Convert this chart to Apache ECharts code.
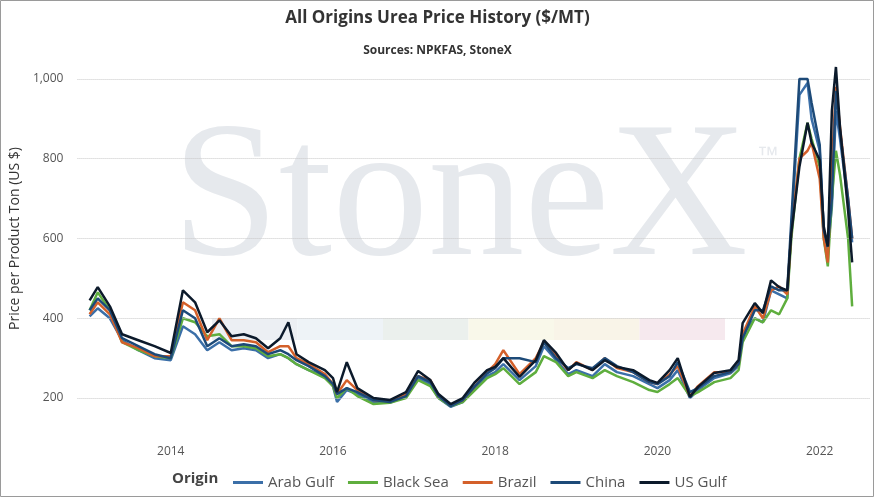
<!DOCTYPE html>
<html>
<head>
<meta charset="utf-8">
<script src="https://cdn.jsdelivr.net/npm/echarts@6/dist/echarts.min.js"></script>
<style>html,body{margin:0;padding:0;background:#fff}#chart{width:875px;height:498px}</style>
</head>
<body>
<div id="chart"></div>
<script>
// time points (decimal years)
var years = [2013.0, 2013.1, 2013.25, 2013.4, 2013.6, 2013.8,
    2014.0, 2014.15, 2014.3, 2014.45, 2014.6, 2014.75, 2014.9,
    2015.05, 2015.2, 2015.35, 2015.45, 2015.55, 2015.7, 2015.9,
    2016.0, 2016.05, 2016.17, 2016.3, 2016.5, 2016.7, 2016.9,
    2017.05, 2017.2, 2017.3, 2017.45, 2017.6, 2017.75, 2017.9,
    2018.0, 2018.1, 2018.3, 2018.5, 2018.6, 2018.75, 2018.9,
    2019.0, 2019.2, 2019.35, 2019.5, 2019.7, 2019.9,
    2020.0, 2020.15, 2020.25, 2020.4, 2020.5, 2020.7, 2020.9,
    2021.0, 2021.05, 2021.2, 2021.3, 2021.4, 2021.5, 2021.6, 2021.65, 2021.75, 2021.85, 2021.9,
    2022.0, 2022.05, 2022.1, 2022.15, 2022.2, 2022.25, 2022.35, 2022.4];

var arabGulf = [405, 425, 400, 345, 320, 300,
    295, 380, 360, 320, 340, 320, 325,
    320, 300, 310, 300, 285, 270, 255,
    230, 190, 220, 210, 190, 188, 205,
    250, 235, 200, 178, 190, 225, 255,
    265, 285, 245, 280, 330, 295, 260,
    270, 255, 285, 265, 255, 235,
    225, 245, 270, 200, 220, 250, 262,
    280, 360, 400, 390, 470, 460, 450, 620, 960, 990, 900,
    820, 620, 570, 680, 920, 850, 690, 590];
var blackSea = [420, 465, 420, 340, 320, 305,
    300, 400, 390, 355, 360, 330, 330,
    325, 305, 310, 300, 285, 270, 250,
    230, 200, 225, 205, 185, 188, 200,
    245, 230, 200, 180, 190, 220, 250,
    260, 275, 235, 265, 305, 290, 255,
    265, 250, 270, 255, 240, 220,
    215, 235, 250, 205, 215, 240, 250,
    270, 340, 400, 390, 420, 410, 450, 600, 800, 890, 850,
    780, 600, 530, 700, 820, 760, 600, 430];
var brazil = [410, 440, 410, 340, 325, 305,
    305, 440, 420, 345, 400, 345, 345,
    340, 315, 330, 330, 300, 285, 260,
    235, 210, 245, 220, 195, 192, 210,
    255, 245, 205, 182, 195, 230, 265,
    285, 320, 260, 300, 340, 305, 270,
    290, 270, 300, 275, 265, 240,
    235, 260, 280, 205, 230, 265, 265,
    285, 360, 430, 400, 470, 480, 460, 620, 800, 820, 840,
    750, 600, 540, 780, 980, 880, 700, 600];
var china = [420, 450, 420, 350, 330, 310,
    300, 420, 400, 330, 350, 330, 335,
    330, 310, 320, 310, 295, 280, 255,
    235, 210, 225, 215, 195, 190, 205,
    255, 240, 205, 180, 195, 230, 262,
    275, 300, 300, 290, 340, 300, 275,
    285, 275, 300, 280, 265, 240,
    235, 255, 290, 215, 225, 255, 265,
    285, 350, 420, 420, 480, 470, 470, 645, 1000, 1000, 940,
    835, 620, 580, 700, 970, 870, 700, 600];
var usGulf = [445, 478, 430, 360, 345, 330,
    313, 470, 440, 365, 395, 355, 360,
    350, 325, 350, 390, 310, 290, 270,
    250, 215, 290, 225, 200, 195, 215,
    268, 245, 210, 185, 200, 240, 270,
    278, 300, 253, 295, 345, 313, 270,
    288, 270, 295, 278, 270, 245,
    238, 270, 300, 203, 228, 263, 270,
    295, 388, 438, 413, 495, 478, 470, 613, 780, 890, 840,
    797, 630, 580, 920, 1030, 880, 670, 540];

var seriesNames = ['Arab Gulf', 'Black Sea', 'Brazil', 'China', 'US Gulf'];
var seriesColors = ['#3b6fa8', '#5fae3e', '#d4602a', '#1d4a78', '#0c1a2b'];
var xTicks = [2014, 2016, 2018, 2020, 2022];
var yTicks = [200, 400, 600, 800, 1000];

var chart = echarts.init(document.getElementById('chart'));

function pairs(vals) {
    return years.map(function (y, i) { return [y, vals[i]]; });
}

var allData = [arabGulf, blackSea, brazil, china, usGulf];
var series = allData.map(function (vals, i) {
    return {
        name: seriesNames[i],
        type: 'line',
        data: pairs(vals),
        showSymbol: false,
        lineStyle: { width: 2.5, color: seriesColors[i] },
        itemStyle: { color: seriesColors[i] },
        z: 3 + i
    };
});
// dotted horizontal gridlines
series.push({
    type: 'line',
    data: [],
    silent: true,
    markLine: {
        silent: true,
        symbol: 'none',
        label: { show: false },
        lineStyle: { type: 'dotted', color: '#c8c8c8', width: 1 },
        data: yTicks.map(function (v) { return { yAxis: v }; })
    }
});

var bandColors = ['#eceff3', '#eef3f7', '#ebf0ed', '#f9f8ea', '#f9f4e8', '#f6e9ee'];
var graphics = [
    { type: 'rect', shape: { x: 0.5, y: 0.5, width: 873, height: 496 }, style: { fill: 'none', stroke: '#9a9a9a', lineWidth: 1 }, silent: true, z: 100 },
    { type: 'text', left: 172, top: 108, z: 0, silent: true,
      style: { text: 'StoneX', font: '192px "Liberation Serif", serif', fill: '#e6e9ed' } },
    { type: 'text', left: 757, top: 145, z: 0, silent: true,
      style: { text: '™', font: '22px "Liberation Sans", sans-serif', fill: '#e6e9ed' } },
    { type: 'text', left: 172, top: 471, silent: true,
      style: { text: 'Origin', font: 'bold 15px "Open Sans", sans-serif', fill: '#444' } }
];
bandColors.forEach(function (c, i) {
    graphics.push({ type: 'rect', z: 0, silent: true,
        shape: { x: 212 + i * 85.5, y: 318, width: 85.5, height: 22 }, style: { fill: c } });
});

chart.setOption({
    backgroundColor: '#fff',
    animation: false,
    title: [{
        text: 'All Origins Urea Price History ($/MT)',
        left: 'center', top: 5,
        textStyle: { fontSize: 17, fontWeight: 'bold', color: '#333', fontFamily: 'Open Sans' }
    }, {
        text: 'Sources: NPKFAS, StoneX',
        left: 'center', top: 40,
        textStyle: { fontSize: 12, fontWeight: 'bold', color: '#333', fontFamily: 'Open Sans' }
    }],
    graphic: graphics,
    legend: {
        data: seriesNames,
        left: 228, top: 470,
        itemWidth: 30, itemHeight: 3, itemGap: 14,
        icon: 'rect',
        textStyle: { fontSize: 15, color: '#555', fontFamily: 'Open Sans' }
    },
    grid: { left: 70, right: 5, top: 59, bottom: 80 },
    xAxis: {
        type: 'value',
        min: 2012.85, max: 2022.62,
        splitLine: { show: false },
        axisLine: { show: false },
        axisTick: { show: false },
        axisLabel: {
            customValues: xTicks,
            formatter: function (v) { return String(v); },
            color: '#555', fontSize: 12, margin: 28, fontFamily: 'Open Sans'
        }
    },
    yAxis: {
        type: 'value',
        min: 150, max: 1050,
        name: 'Price per Product Ton (US $)',
        nameLocation: 'middle', nameGap: 52,
        nameTextStyle: { fontSize: 14, color: '#333', fontFamily: 'Open Sans' },
        splitLine: { show: false },
        axisLine: { show: false },
        axisTick: { show: false },
        axisLabel: {
            customValues: yTicks,
            formatter: function (v) { return v.toLocaleString('en-US'); },
            color: '#555', fontSize: 12, margin: 14, fontFamily: 'Open Sans'
        }
    },
    series: series
});
</script>
</body>
</html>
